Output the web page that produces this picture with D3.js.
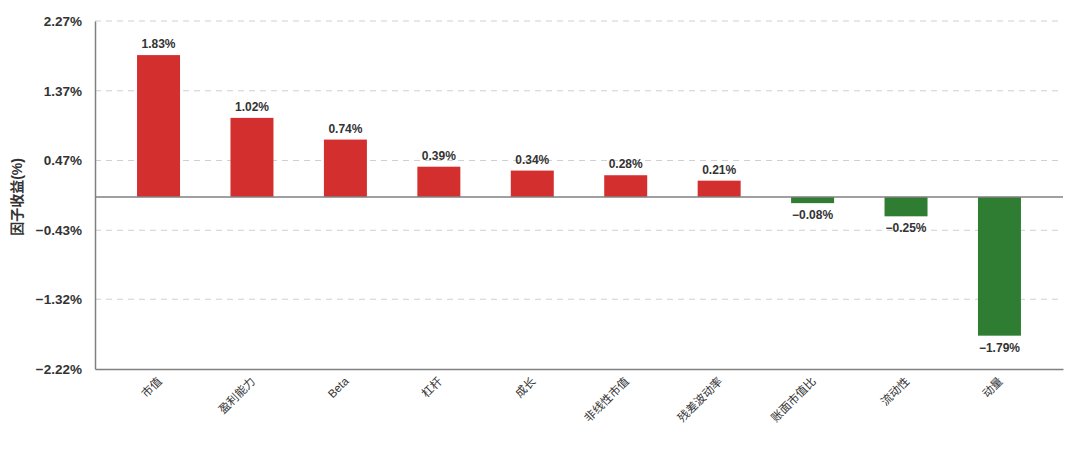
<!DOCTYPE html>
<html><head><meta charset="utf-8">
<script src="https://cdn.jsdelivr.net/npm/d3@7"></script>
<style>
body{margin:0;background:#fff;}
text{font-family:"Liberation Sans","Noto Sans CJK SC",sans-serif;}
</style>
</head><body>
<svg id="c" width="1080" height="456"></svg>
<script>
const categories = ["市值","盈利能力","Beta","杠杆","成长","非线性市值","残差波动率","账面市值比","流动性","动量"];
const values = [1.83, 1.02, 0.74, 0.39, 0.34, 0.28, 0.21, -0.08, -0.25, -1.79];
const yTicks = [2.27, 1.37, 0.47, -0.43, -1.32, -2.22];
const yTitle = "因子收益(%)";

const svg = d3.select("#c");
const m = {l:95, r:1063, t:21, b:369};
const y = d3.scaleLinear().domain([-2.22, 2.27]).range([m.b, m.t]);
const x = d3.scaleBand().domain(categories).range([m.l, m.r]).paddingInner(0.54).paddingOuter(0.45);
const fmt = v => (v < 0 ? "\u2212" : "") + Math.abs(v).toFixed(2) + "%";

// grid
svg.append("g").selectAll("line").data(yTicks.filter(t => t !== -2.22)).join("line")
  .attr("x1", m.l).attr("x2", m.r).attr("y1", d => y(d)).attr("y2", d => y(d))
  .attr("stroke", "#d0d0d0").attr("stroke-dasharray", "6,5").attr("stroke-width", 1);

// y axis
const ya = svg.append("g").attr("transform", `translate(${m.l},0)`)
  .call(d3.axisLeft(y).tickValues(yTicks).tickSize(0).tickPadding(13).tickFormat(fmt));
ya.select(".domain").attr("stroke", "#808080").attr("stroke-width", 1.5);
ya.selectAll("text").attr("font-size", 13.5).attr("font-weight", "bold").attr("fill", "#333");

// bars
svg.append("g").selectAll("rect").data(values).join("rect")
  .attr("x", (d, i) => x(categories[i])).attr("width", x.bandwidth())
  .attr("y", d => y(Math.max(0, d))).attr("height", d => Math.abs(y(d) - y(0)))
  .attr("fill", d => d >= 0 ? "#d32f2f" : "#2e7d32");

// zero line
svg.append("line").attr("x1", m.l).attr("x2", m.r).attr("y1", y(0)).attr("y2", y(0))
  .attr("stroke", "#808080").attr("stroke-width", 1.5);

// x axis
const xa = svg.append("g").attr("transform", `translate(0,${m.b})`)
  .call(d3.axisBottom(x).tickSize(0).tickPadding(0));
xa.select(".domain").attr("stroke", "#808080").attr("stroke-width", 1.5);
xa.selectAll("text").attr("font-size", 11.5).attr("fill", "#333")
  .attr("text-anchor", "end").attr("dy", null).attr("y", 0)
  .attr("transform", "translate(4,13) rotate(-45)");

// value labels
svg.append("g").selectAll("text").data(values).join("text")
  .attr("x", (d, i) => x(categories[i]) + x.bandwidth() / 2)
  .attr("y", d => d >= 0 ? y(d) - 7 : y(d) + 16)
  .attr("text-anchor", "middle").attr("font-size", 12).attr("font-weight", "bold").attr("fill", "#333")
  .text(fmt);

// y title
svg.append("text").attr("transform", `translate(22,${y(0)}) rotate(-90)`)
  .attr("text-anchor", "middle").attr("font-size", 14).attr("font-weight", "bold").attr("fill", "#333")
  .text(yTitle);
</script>
</body></html>
